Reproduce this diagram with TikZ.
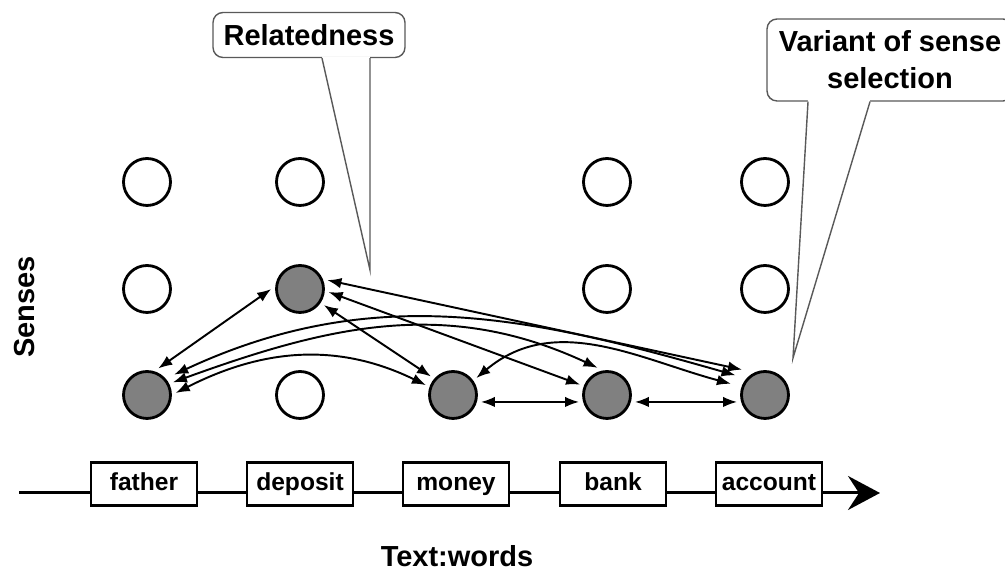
\documentclass[tikz,border=0pt]{standalone}
\usepackage{fontspec}
\setmainfont{Liberation Sans}
\usetikzlibrary{arrows.meta}

\tikzset{
  sense/.style={circle, draw, line width=1.6pt, minimum size=0.94cm, inner sep=0pt, outer sep=3pt, fill=white},
  picked/.style={sense, fill=black!50},
  wordbox/.style={draw, line width=1.5pt, fill=white, minimum width=2.12cm, minimum height=0.85cm, inner sep=0pt, text height=10pt, text depth=2.5pt, font=\fontsize{14}{16}\selectfont\bfseries},
  callout/.style={draw=black!65, line width=0.8pt, rounded corners=0.2cm, fill=white, align=center, inner sep=0pt, font=\fontsize{16.5}{21}\selectfont\bfseries},
  pointer/.style={draw=black!65, line width=0.8pt},
  link/.style={line width=1.1pt, {Latex[length=8pt,width=6pt]}-{Latex[length=8pt,width=6pt]}},
  bigtext/.style={font=\fontsize{16.5}{19}\selectfont\bfseries}
}

\begin{document}
\begin{tikzpicture}[x=0.02cm, y=0.02cm]
        \useasboundingbox (0,0) rectangle (1005,570);

        % senses, three rows
        \node[sense] (f3) at (147,388) {};
        \node[sense] (d3) at (300,388) {};
        \node[sense] (b3) at (607,388) {};
        \node[sense] (a3) at (765,388) {};

        \node[sense] (f2) at (147,281) {};
        \node[picked] (d2) at (300,281) {};
        \node[sense] (b2) at (607,281) {};
        \node[sense] (a2) at (765,281) {};

        \node[picked] (f1) at (147,175) {};
        \node[sense] (d1) at (300,175) {};
        \node[picked] (m1) at (453,175) {};
        \node[picked] (b1) at (607,175) {};
        \node[picked] (a1) at (765,175) {};

        % relations between chosen senses
        \draw[link] (f1.67) -- (d2.180);
        \draw[link] (d2.-34) -- (m1.140);
        \draw[link] (d2.-6) -- (b1.159);
        \draw[link, shorten >=4pt] (d2.18) -- (a1.124);
        \draw[link] (f1.4) to[out=27, in=154] (m1.160);
        \draw[link] (f1.26) to[out=20, in=155] (b1.109);
        \draw[link, shorten <=3pt, shorten >=4pt] (f1.39) to[out=25, in=164] (a1.142);
        \draw[link, shorten >=4pt] (m1.36) to[out=40, in=165] (a1.161);
        \draw[link] (m1.-14) -- (b1.194);
        \draw[link] (b1.-14) -- (a1.194);

        % text axis
        \coordinate (start) at (19,77);
        \coordinate (stop) at (880,77);
        \draw[line width=1.7pt, -{Stealth[length=0.64cm,width=0.68cm,inset=0.22cm]}] (start) -- (stop);
        \node[wordbox] (father) at (144,86) {father};
        \node[wordbox] (deposit) at (300,86) {deposit};
        \node[wordbox] (money) at (456,86) {money};
        \node[wordbox] (bank) at (613,86) {bank};
        \node[wordbox] (account) at (769,86) {account};

        \node[bigtext] (words) at (457,14) {Text:words};
        \node[bigtext, rotate=90] (senses) at (25,263) {Senses};

        % callouts
        \node[callout, minimum width=3.84cm, minimum height=0.9cm] (related) at (309,535) {Relatedness};
        \coordinate (relTip) at (370,300);
        \fill[white] ([xshift=0.26cm, yshift=1pt]related.south) -- (relTip) -- ([xshift=1.22cm, yshift=1pt]related.south) -- cycle;
        \draw[pointer] ([xshift=0.26cm]related.south) -- (relTip) -- ([xshift=1.22cm]related.south);

        \node[callout, minimum width=4.92cm, minimum height=1.64cm] (variant) at (890,510) {Variant of sense\\selection};
        \coordinate (varTip) at (793,212);
        \fill[white] ([xshift=-1.64cm, yshift=1pt]variant.south) -- (varTip) -- ([xshift=-0.4cm, yshift=1pt]variant.south) -- cycle;
        \draw[pointer] ([xshift=-1.64cm]variant.south) -- (varTip) -- ([xshift=-0.4cm]variant.south);
    \end{tikzpicture}
\end{document}
